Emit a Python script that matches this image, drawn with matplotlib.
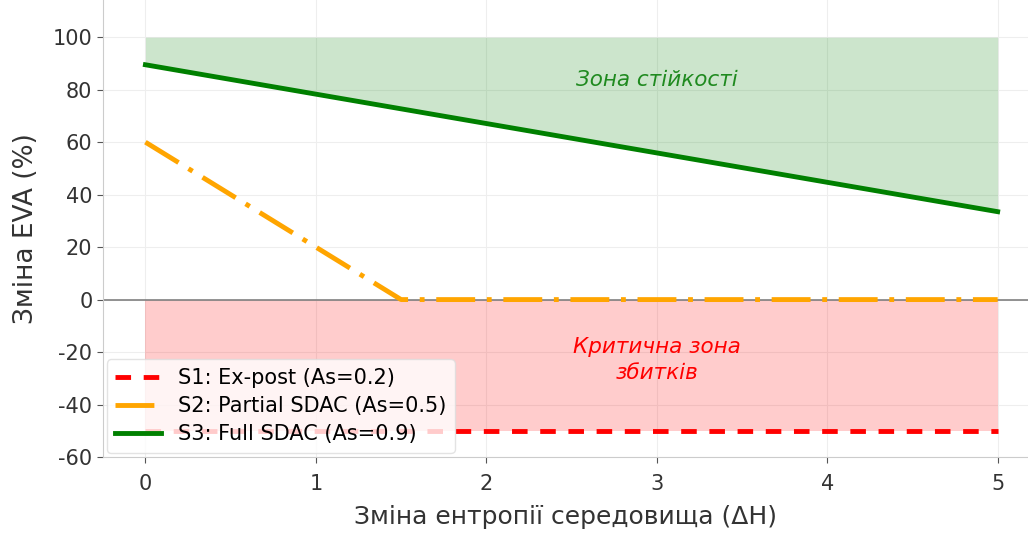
import numpy as np
import matplotlib.pyplot as plt

plt.rcParams['axes.unicode_minus'] = False

x_pts = [0, 1.5, 5]
s1 = [-50, -50, -50]
s2 = [60, 0, 0]
s3 = [89.5, 89.5 - 11.2 * 1.5, 33.5]
labels = ['S1: Ex-post (As=0.2)', 'S2: Partial SDAC (As=0.5)', 'S3: Full SDAC (As=0.9)']
xticks = [0, 1, 2, 3, 4, 5]
yticks = [-60, -40, -20, 0, 20, 40, 60, 80, 100]

fig = plt.figure(figsize=(10.28, 5.33), dpi=100)
ax = fig.add_axes([0.100, 0.1426, 0.90, 0.857])

ax.fill_between(x_pts, s3, 100, color='green', alpha=0.2, linewidth=0)
ax.fill_between(x_pts, -50, 0, color='red', alpha=0.2, linewidth=0)
ax.axhline(0, color='gray', lw=1.2, zorder=1)

ax.plot(x_pts, s1, color='red', ls=(0, (3.2, 2.6)), lw=3.5, label=labels[0])
ax.plot(x_pts, s2, color='orange', ls=(0, (8, 2.4, 1, 2.4)), lw=3.5, label=labels[1])
ax.plot(x_pts, s3, color='green', lw=3.5, label=labels[2])

ax.text(3, 83.5, 'Зона стійкості', color='#1f8a1f', style='italic',
        fontsize=15.5, ha='center', va='center')
ax.text(3, -23, 'Критична зона\nзбитків', color='red', style='italic',
        fontsize=15.5, ha='center', va='center', linespacing=1.4)

ax.set_xlim(-0.25, 5.178)
ax.set_ylim(-60, 114.1)
ax.set_xticks(xticks)
ax.set_yticks(yticks)
ax.tick_params(labelsize=15, length=4, color='#555555', labelcolor='#333333')
ax.tick_params(axis='x', pad=8)
ax.set_xlabel('Зміна ентропії середовища (ΔH)', fontsize=18, color='#333333', labelpad=8)
ax.set_ylabel('Зміна EVA (%)', fontsize=19, color='#333333', labelpad=10)
ax.grid(True, color='#eeeeee', lw=0.8)
ax.set_axisbelow(True)
for s in ['top', 'right']:
    ax.spines[s].set_visible(False)
for s in ['left', 'bottom']:
    ax.spines[s].set_color('#cccccc')

ax.legend(loc='lower left', fontsize=15, framealpha=0.8, handlelength=2.2,
          borderaxespad=0.2, edgecolor='#dddddd', labelspacing=0.4)

fig.savefig('out.png', dpi=100)
